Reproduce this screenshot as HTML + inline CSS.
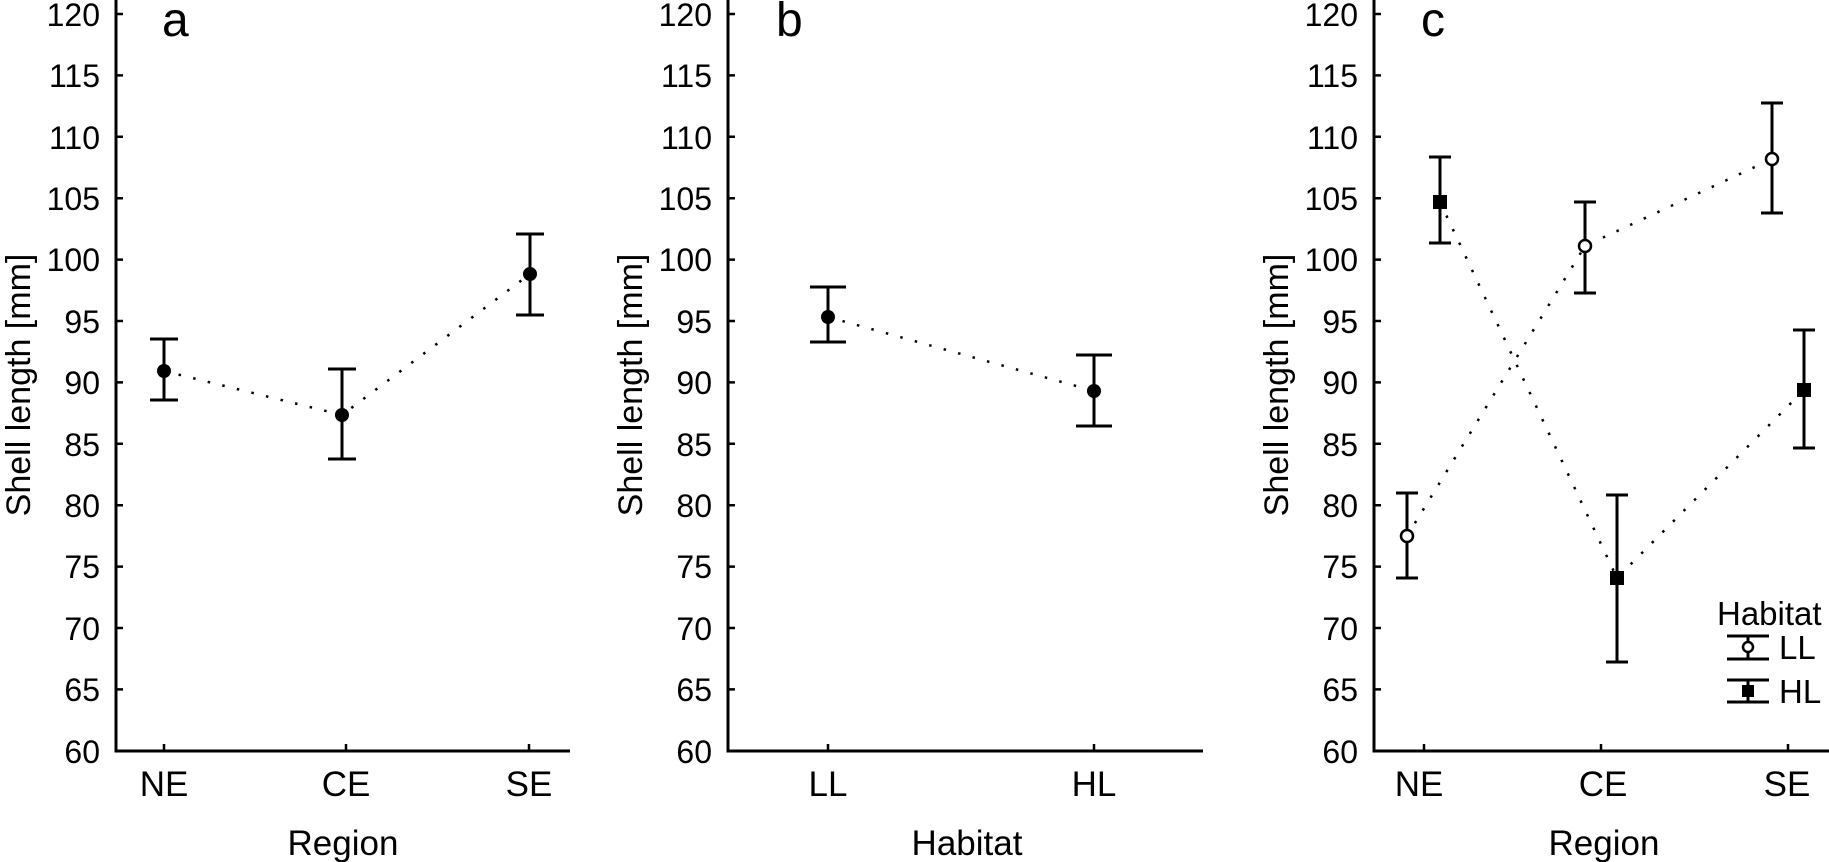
<!DOCTYPE html>
<html><head><meta charset="utf-8"><style>
html,body{margin:0;padding:0;background:#fff;}
svg{display:block;}
text{font-family:"Liberation Sans",Arial,sans-serif;fill:#000;}
</style></head><body>
<svg width="1829" height="862" viewBox="0 0 1829 862" xmlns="http://www.w3.org/2000/svg">
<defs>
<g id="yt">
  <path d="M0 14h7M0 75.4h7M0 136.8h7M0 198.2h7M0 259.6h7M0 321h7M0 382.4h7M0 443.8h7M0 505.2h7M0 566.6h7M0 628h7M0 689.4h7M0 751h7" stroke="#000" stroke-width="2.5"/>
  <g font-size="32" text-anchor="end">
    <text x="-16" y="26">120</text><text x="-16" y="87">115</text><text x="-16" y="149">110</text>
    <text x="-16" y="210">105</text><text x="-16" y="271">100</text><text x="-16" y="333">95</text>
    <text x="-16" y="394">90</text><text x="-16" y="456">85</text><text x="-16" y="517">80</text>
    <text x="-16" y="578">75</text><text x="-16" y="640">70</text><text x="-16" y="701">65</text>
    <text x="-16" y="763">60</text>
  </g>
  <text transform="translate(-86,385) rotate(-90)" font-size="34" text-anchor="middle">Shell length [mm]</text>
</g>
</defs>

<!-- Panel a -->
<use href="#yt" x="116"/>
<path d="M116 0V751H570" fill="none" stroke="#000" stroke-width="3"/>
<path d="M164 751v-7M346 751v-7M529 751v-7" stroke="#000" stroke-width="2.5"/>
<g font-size="35" text-anchor="middle"><text x="164" y="796">NE</text><text x="346" y="796">CE</text><text x="529" y="796">SE</text><text x="343" y="855">Region</text></g>
<text x="162" y="36" font-size="48">a</text>
<polyline points="164,371 342,415 530,274" fill="none" stroke="#000" stroke-width="2.5" stroke-dasharray="2.5 12.5"/>
<g stroke="#000" stroke-width="3" fill="none">
<path d="M164 339V400M150 339h28M150 400h28"/>
<path d="M342 369V459M328 369h28M328 459h28"/>
<path d="M530 234V315M516 234h28M516 315h28"/>
</g>
<g fill="#000"><circle cx="164" cy="371" r="7"/><circle cx="342" cy="415" r="7"/><circle cx="530" cy="274" r="7"/></g>

<!-- Panel b -->
<use href="#yt" x="728"/>
<path d="M728 0V751H1203" fill="none" stroke="#000" stroke-width="3"/>
<path d="M828 751v-7M1094 751v-7" stroke="#000" stroke-width="2.5"/>
<g font-size="35" text-anchor="middle"><text x="828" y="796">LL</text><text x="1094" y="796">HL</text><text x="967" y="855">Habitat</text></g>
<text x="776" y="36" font-size="48">b</text>
<polyline points="828,317 1094,391" fill="none" stroke="#000" stroke-width="2.5" stroke-dasharray="2.5 12.5"/>
<g stroke="#000" stroke-width="3" fill="none">
<path d="M828 287V342M810 287h36M810 342h36"/>
<path d="M1094 355V426M1076 355h36M1076 426h36"/>
</g>
<g fill="#000"><circle cx="828" cy="317" r="7"/><circle cx="1094" cy="391" r="7"/></g>

<!-- Panel c -->
<use href="#yt" x="1374"/>
<path d="M1374 0V751H1829" fill="none" stroke="#000" stroke-width="3"/>
<path d="M1424 751v-7M1601 751v-7M1788 751v-7" stroke="#000" stroke-width="2.5"/>
<g font-size="35" text-anchor="middle"><text x="1419" y="796">NE</text><text x="1603" y="796">CE</text><text x="1787" y="796">SE</text><text x="1604" y="855">Region</text></g>
<text x="1421" y="36" font-size="48">c</text>
<polyline points="1407,536 1585,246 1772,159" fill="none" stroke="#000" stroke-width="2.5" stroke-dasharray="2.5 12.5"/>
<polyline points="1440,202 1617,578 1804,390" fill="none" stroke="#000" stroke-width="2.5" stroke-dasharray="2.5 12.5"/>
<g stroke="#000" stroke-width="3" fill="none">
<path d="M1407 493V578M1396 493h22M1396 578h22"/>
<path d="M1585 202V293M1574 202h22M1574 293h22"/>
<path d="M1772 103V213M1761 103h22M1761 213h22"/>
<path d="M1440 157V243M1429 157h22M1429 243h22"/>
<path d="M1617 495V662M1606 495h22M1606 662h22"/>
<path d="M1804 330V448M1793 330h22M1793 448h22"/>
</g>
<g fill="#fff" stroke="#000" stroke-width="2.5">
<circle cx="1407" cy="536" r="6"/><circle cx="1585" cy="246" r="6"/><circle cx="1772" cy="159" r="6"/>
</g>
<g fill="#000">
<rect x="1433" y="195" width="14" height="14"/><rect x="1610" y="571" width="14" height="14"/><rect x="1797" y="383" width="14" height="14"/>
</g>
<!-- legend -->
<text x="1717" y="625" font-size="33">Habitat</text>
<g stroke="#000" stroke-width="3" fill="none">
<path d="M1727 636h42M1727 659h42M1748 636V659"/>
<path d="M1727 680h42M1727 702h42M1748 680V702"/>
</g>
<circle cx="1748" cy="647" r="5" fill="#fff" stroke="#000" stroke-width="2.5"/>
<rect x="1742" y="685" width="12" height="12" fill="#000"/>
<text x="1779" y="659" font-size="33">LL</text>
<text x="1779" y="703" font-size="33">HL</text>
</svg>
</body></html>
